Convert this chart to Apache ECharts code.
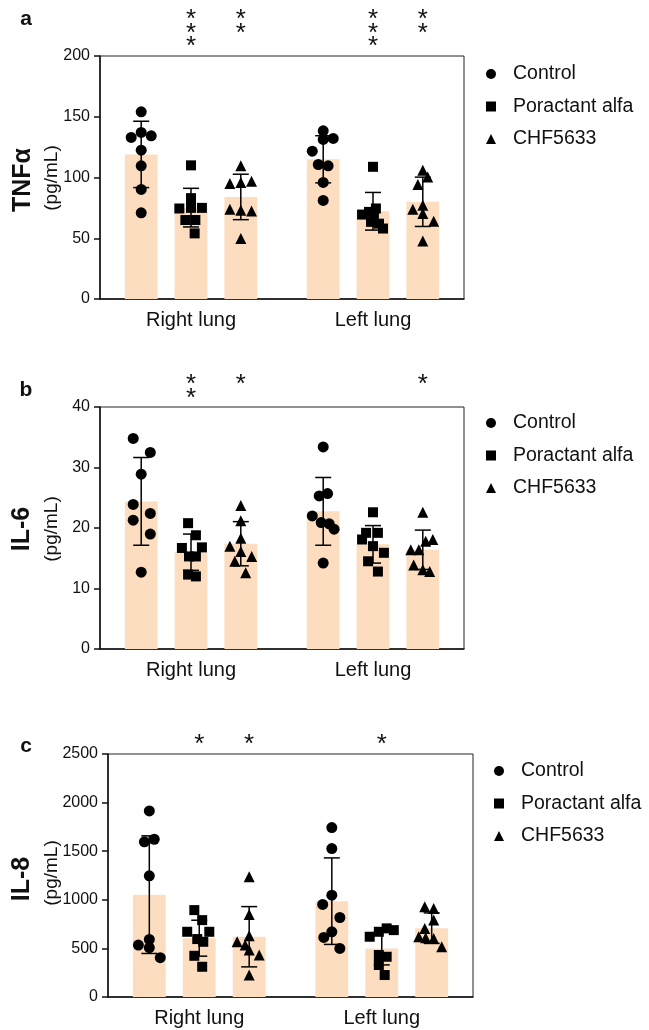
<!DOCTYPE html>
<html><head><meta charset="utf-8">
<script src="https://cdn.jsdelivr.net/npm/echarts@6/dist/echarts.min.js"></script>
<style>html,body{margin:0;padding:0;background:#fff}#c{width:649px;height:1030px}</style>
</head><body><div id="c"></div>
<script>
// ---------- data ----------
const categories = ['Right lung', 'Left lung'];
const groups = ['Control', 'Poractant alfa', 'CHF5633'];
const symbols = ['circle', 'rect', 'triangle'];

// Panel a: TNFα (pg/mL) — [right lung, left lung]
const tnfControl   = [[154.1, 137.1, 133, 134.3, 122.5, 109.6, 90.2, 70.9], [138.4, 131.3, 132.2, 121.7, 110.7, 109.6, 95.9, 81.1]];
const tnfPoractant = [[110, 83, 74.5, 75, 75, 65, 65, 54], [108.8, 74.5, 71.7, 69.5, 69, 63.5, 62, 58]];
const tnfChf       = [[109.6, 95.1, 95.9, 97, 73.9, 73.1, 72.5, 49.8], [106, 100.5, 94.2, 77.2, 73.9, 70.4, 64, 47.8]];
const tnfMeans = [[119, 115], [75.2, 72.2], [84, 80]];
const tnfSD    = [[27.3, 19.4], [15.9, 15.5], [18.7, 20.3]];
const tnfStars = [['', ''], ['***', '***'], ['**', '**']];
const tnfTicks = [0, 200, 50];

// Panel b: IL-6 (pg/mL)
const il6Control   = [[34.8, 32.5, 28.9, 23.9, 22.4, 21.3, 19.0, 12.7], [33.4, 25.3, 25.7, 22.0, 20.9, 20.7, 19.8, 14.2]];
const il6Poractant = [[20.8, 18.8, 16.7, 16.8, 15.3, 15.3, 12.3, 12.0], [22.6, 19.2, 19.2, 18.1, 17.0, 15.9, 14.5, 12.8]];
const il6Chf       = [[23.7, 21.2, 18.3, 17.0, 16.1, 15.3, 14.5, 12.6], [22.6, 18.1, 17.8, 16.4, 16.4, 13.9, 13.1, 12.8]];
const il6Means = [[24.4, 22.75], [16.0, 17.3], [17.4, 16.4]];
const il6SD    = [[7.25, 5.6], [3.0, 3.1], [3.65, 3.25]];
const il6Stars = [['', ''], ['**', ''], ['*', '*']];
const il6Ticks = [0, 40, 10];

// Panel c: IL-8 (pg/mL)
const il8Control   = [[1914, 1596, 1623, 1247, 534, 592, 507, 404], [1743, 1527, 1048, 952, 818, 671, 613, 500]];
const il8Poractant = [[894, 791, 671, 671, 596, 568, 424, 311], [706, 688, 671, 620, 432, 414, 329, 226]];
const il8Chf       = [[1236, 850, 630, 568, 534, 483, 432, 226], [928, 911, 791, 706, 620, 610, 603, 517]];
const il8Means = [[1053, 986], [605, 500], [620, 708]];
const il8SD    = [[605, 445], [185, 170], [310, 157]];
const il8Stars = [['', ''], ['*', '*'], ['*', '']];
const il8Ticks = [0, 2500, 500];

// horizontal jitter of the dots, in fractions of a category band
const tnfJitter = [
  [[0, 0, -0.055, 0.055, 0, 0, 0, 0], [0, 0, 0.055, -0.06, -0.027, 0.027, 0, 0]],
  [[0, 0, -0.064, 0, 0.06, -0.031, 0.024, 0.02], [0, 0.016, -0.022, -0.06, 0.005, -0.011, 0.033, 0.055]],
  [[0, -0.06, 0, 0.059, -0.06, 0, 0.059, 0], [0, 0.027, -0.027, 0, -0.055, 0, 0.06, 0]]
];
const il6Jitter = [
  [[-0.044, 0.05, 0, -0.044, 0.05, -0.044, 0.05, 0], [0, -0.022, 0.024, -0.06, -0.011, 0.033, 0.06, 0]],
  [[-0.016, 0.027, -0.05, 0.06, -0.011, 0.027, -0.016, 0.027], [0, -0.038, 0.027, -0.06, 0, 0.06, -0.027, 0.027]],
  [[0, 0, 0, -0.06, 0, 0.06, -0.033, 0.027], [0, 0.055, 0.016, -0.066, -0.022, -0.05, 0, 0.038]]
];
const il8Jitter = [
  [[0, -0.027, 0.027, 0, -0.06, 0, 0, 0.06], [0, 0, 0, -0.05, 0.044, 0, -0.044, 0.044]],
  [[-0.027, 0.016, -0.066, 0.055, -0.011, 0.022, -0.027, 0.016], [0.027, 0.066, -0.016, -0.066, -0.016, 0.027, -0.016, 0.016]],
  [[0, 0, 0, -0.066, -0.022, 0, 0.055, 0], [-0.038, 0.011, 0.011, -0.038, -0.071, -0.033, 0.011, 0.055]]
];

// ---------- layout / style ----------
const FONT = '"Liberation Sans", Arial, Helvetica, sans-serif';
const BAR_W = 0.18, BAR_GAP = 0.52;
const STEP = BAR_W * (1 + BAR_GAP);
const BAR_COLOR = '#FCDDBF';

const panels = [
  { letter: 'a', name: 'TNFα', points: [tnfControl, tnfPoractant, tnfChf], means: tnfMeans, sd: tnfSD, stars: tnfStars, ticks: tnfTicks, jitter: tnfJitter,
    grid: { left: 100, top: 56, width: 364, height: 243 }, legend: { left: 481, top: 59 },
    letterPos: [26, 19], titlePos: [23, 180], unitPos: [52, 178], starTop: 13 },
  { letter: 'b', name: 'IL-6', points: [il6Control, il6Poractant, il6Chf], means: il6Means, sd: il6SD, stars: il6Stars, ticks: il6Ticks, jitter: il6Jitter,
    grid: { left: 100, top: 407, width: 364, height: 242 }, legend: { left: 481, top: 408 },
    letterPos: [26, 390], titlePos: [22, 529], unitPos: [52, 529], starTop: 378 },
  { letter: 'c', name: 'IL-8', points: [il8Control, il8Poractant, il8Chf], means: il8Means, sd: il8SD, stars: il8Stars, ticks: il8Ticks, jitter: il8Jitter,
    grid: { left: 108, top: 754, width: 365, height: 243 }, legend: { left: 489, top: 756 },
    letterPos: [26, 746], titlePos: [22, 879], unitPos: [52, 873], starTop: 738 }
];

const grid = [], xAxis = [], yAxis = [], legend = [], series = [];
panels.forEach((p, k) => {
  grid.push(Object.assign({ show: true, borderColor: '#222', borderWidth: 1, backgroundColor: 'transparent' }, p.grid));
  xAxis.push({
    type: 'category', gridIndex: k, data: categories,
    axisLine: { lineStyle: { color: '#111', width: 1.5 } },
    axisTick: { alignWithLabel: true, length: 6, lineStyle: { color: '#111', width: 1.5 } },
    axisLabel: { fontFamily: FONT, fontSize: 20, color: '#111', margin: 11 }
  });
  xAxis.push({ type: 'value', gridIndex: k, min: 0, max: 2, show: false });
  yAxis.push({
    type: 'value', gridIndex: k, min: p.ticks[0], max: p.ticks[1], interval: p.ticks[2],
    axisLine: { show: true, lineStyle: { color: '#111', width: 1.5 } },
    axisTick: { show: true, length: 6, lineStyle: { color: '#111', width: 1.5 } },
    axisLabel: { fontFamily: FONT, fontSize: 16, color: '#111', margin: 10, formatter: v => String(v) },
    splitLine: { show: false }
  });
  legend.push({
    orient: 'vertical', left: p.legend.left, top: p.legend.top,
    itemWidth: 10, itemHeight: 10, itemGap: 12.5,
    textStyle: { fontFamily: FONT, fontSize: 19.5, color: '#111', lineHeight: 20, padding: [0, 0, 0, 12] },
    data: groups.map((g, s) => ({ name: g, icon: symbols[s] })),
    selectedMode: false
  });
  groups.forEach((g, s) => {
    series.push({
      type: 'bar', name: g + ' mean', xAxisIndex: 2 * k, yAxisIndex: k,
      data: p.means[s], barWidth: (BAR_W * 100) + '%', barGap: (BAR_GAP * 100) + '%',
      itemStyle: { color: BAR_COLOR }, silent: true, z: 1
    });
  });
  groups.forEach((g, s) => {
    const data = [];
    p.points[s].forEach((vals, i) => {
      vals.forEach((v, j) => data.push([i + 0.5 + (s - 1) * STEP + p.jitter[s][i][j], v]));
    });
    series.push({
      type: 'scatter', name: g, xAxisIndex: 2 * k + 1, yAxisIndex: k, data,
      symbol: symbols[s], symbolSize: s === 1 ? 10 : 11,
      itemStyle: { color: '#000', opacity: 1 }, z: 3
    });
  });
  const err = [];
  groups.forEach((g, s) => {
    p.means[s].forEach((m, i) => err.push([i + 0.5 + (s - 1) * STEP, m - p.sd[s][i], m + p.sd[s][i]]));
  });
  series.push({
    type: 'custom', name: 'SD', xAxisIndex: 2 * k + 1, yAxisIndex: k, data: err, z: 4,
    encode: { x: 0, y: [1, 2] },
    renderItem: function (params, api) {
      const x = api.value(0);
      const top = api.coord([x, api.value(2)]), bot = api.coord([x, api.value(1)]);
      const hw = 8, st = { stroke: '#000', lineWidth: 1.5 };
      return { type: 'group', children: [
        { type: 'line', shape: { x1: top[0], y1: top[1], x2: bot[0], y2: bot[1] }, style: st },
        { type: 'line', shape: { x1: top[0] - hw, y1: top[1], x2: top[0] + hw, y2: top[1] }, style: st },
        { type: 'line', shape: { x1: bot[0] - hw, y1: bot[1], x2: bot[0] + hw, y2: bot[1] }, style: st }
      ] };
    }
  });
});

const chart = echarts.init(document.getElementById('c'), null, { renderer: 'canvas' });
chart.setOption({ animation: false, backgroundColor: '#fff', grid, xAxis, yAxis, legend, series });

// ---------- texts: panel letters, axis titles, significance stars ----------
const graphic = [];
panels.forEach((p, k) => {
  graphic.push({ type: 'text', x: p.letterPos[0], y: p.letterPos[1],
    style: { text: p.letter, font: 'bold 21px ' + FONT, fill: '#111', align: 'center', verticalAlign: 'middle' } });
  graphic.push({ type: 'text', x: p.titlePos[0], y: p.titlePos[1], rotation: Math.PI / 2,
    style: { text: p.name, font: 'bold 25px ' + FONT, fill: '#111', align: 'center', verticalAlign: 'middle' } });
  graphic.push({ type: 'text', x: p.unitPos[0], y: p.unitPos[1], rotation: Math.PI / 2,
    style: { text: '(pg/mL)', font: '19px ' + FONT, fill: '#111', align: 'center', verticalAlign: 'middle' } });
  p.stars.forEach((row, s) => {
    row.forEach((str, i) => {
      const px = chart.convertToPixel({ xAxisIndex: 2 * k + 1, yAxisIndex: k }, [i + 0.5 + (s - 1) * STEP, 0])[0];
      for (let n = 0; n < str.length; n++) {
        graphic.push({ type: 'text', x: px, y: p.starTop + n * 13.5 + 7,
          style: { text: '*', font: '26px ' + FONT, fill: '#111', align: 'center', verticalAlign: 'middle' } });
      }
    });
  });
});
chart.setOption({ graphic });
</script></body></html>
